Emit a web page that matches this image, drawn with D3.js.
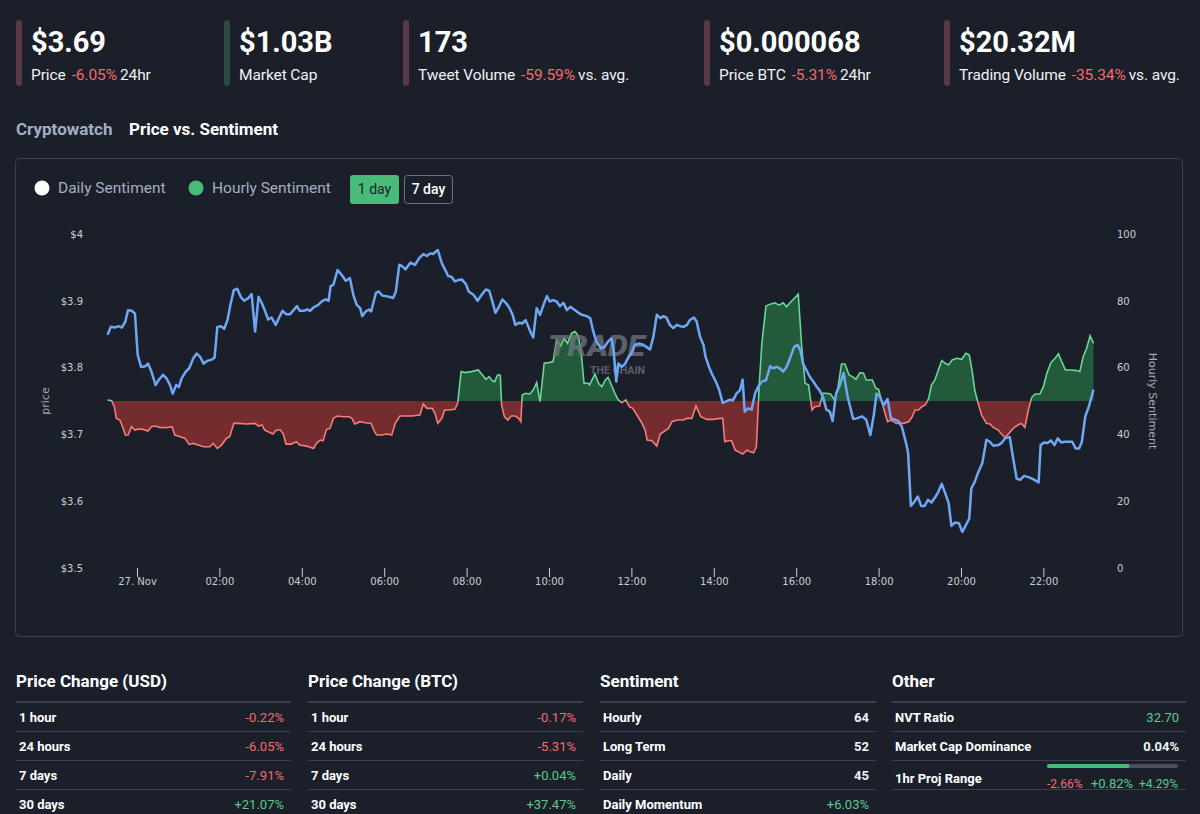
<!DOCTYPE html>
<html lang="en">
<head>
<meta charset="UTF-8">
<title>Price vs. Sentiment</title>
<script src="https://d3js.org/d3.v7.min.js"></script>
<style>
  body { margin: 0; background: #1b1f2a; }
  svg { display: block; font-family: Roboto, sans-serif; }
  .axis path { display: none; }
  .axis line { stroke: #c9ced6; }
  .axis text { font-family: "DejaVu Sans", sans-serif; font-size: 10px; fill: #c9ced6; }
</style>
</head>
<body>
<div id="page"></div>
<script>
// ---- header stats ----
const statValues = ['$3.69', '$1.03B', '173', '$0.000068', '$20.32M'];
const statLabels = ['Price', 'Market Cap', 'Tweet Volume', 'Price BTC', 'Trading Volume'];
const statChanges = ['-6.05%', '', '-59.59%', '-5.31%', '-35.34%'];
const statSuffix = ['24hr', '', 'vs. avg.', '24hr', 'vs. avg.'];

// ---- chart data (minutes after 27 Nov 00:00) ----
const priceTimes = [-43,-38,-32,-27,-22,-17,-13,-8,-3,1,6,12,16,21,27,32,38,43,48,52,57,61,65,71,76,82,87,92,97,102,109,113,117,122,127,132,136,141,146,151,156,162,167,169,172,177,182,186,191,196,202,207,212,217,223,228,233,237,243,248,252,257,264,270,275,279,282,286,292,298,304,310,315,320,325,328,333,338,341,348,352,357,362,367,373,377,382,386,391,398,405,411,417,422,427,431,438,444,449,453,458,463,468,473,479,483,490,496,502,508,513,517,522,527,532,537,542,547,551,556,561,566,570,574,577,582,587,592,597,601,606,611,616,621,626,631,638,643,648,655,660,664,669,676,681,686,691,694,698,701,706,711,716,720,725,732,737,742,747,752,757,762,766,771,776,781,786,791,796,801,805,811,815,820,825,828,833,838,843,848,853,859,864,868,873,878,882,885,890,895,900,905,910,916,922,926,932,936,941,946,951,957,962,966,970,975,980,985,990,994,999,1004,1009,1013,1018,1023,1029,1035,1043,1048,1056,1062,1068,1073,1077,1082,1087,1093,1098,1104,1109,1114,1120,1123,1127,1132,1137,1142,1147,1152,1157,1163,1167,1172,1177,1182,1186,1191,1197,1202,1207,1212,1215,1220,1225,1231,1237,1242,1247,1254,1259,1264,1271,1276,1281,1286,1292,1298,1305,1313,1316,1321,1326,1331,1336,1341,1346,1351,1359,1362,1367,1372,1376,1381,1386,1393];
const priceValues = [3.849,3.861,3.860,3.862,3.860,3.869,3.886,3.885,3.881,3.819,3.801,3.802,3.806,3.794,3.774,3.782,3.789,3.784,3.774,3.761,3.774,3.771,3.784,3.794,3.799,3.814,3.821,3.816,3.806,3.810,3.812,3.815,3.861,3.862,3.858,3.872,3.894,3.916,3.918,3.906,3.900,3.904,3.910,3.886,3.854,3.906,3.896,3.886,3.872,3.875,3.864,3.875,3.885,3.880,3.880,3.886,3.892,3.885,3.885,3.887,3.885,3.890,3.894,3.900,3.902,3.900,3.922,3.924,3.946,3.939,3.930,3.934,3.909,3.894,3.889,3.877,3.884,3.887,3.884,3.912,3.914,3.908,3.907,3.906,3.904,3.914,3.954,3.952,3.947,3.957,3.954,3.964,3.970,3.967,3.971,3.970,3.976,3.956,3.946,3.937,3.936,3.929,3.931,3.932,3.925,3.914,3.909,3.900,3.909,3.917,3.915,3.901,3.882,3.891,3.902,3.897,3.890,3.879,3.864,3.867,3.866,3.871,3.861,3.851,3.845,3.889,3.879,3.894,3.907,3.899,3.901,3.899,3.892,3.897,3.886,3.891,3.886,3.882,3.879,3.877,3.874,3.856,3.839,3.829,3.831,3.839,3.844,3.826,3.779,3.806,3.801,3.806,3.816,3.821,3.834,3.836,3.834,3.831,3.827,3.846,3.879,3.874,3.877,3.875,3.864,3.859,3.864,3.862,3.861,3.864,3.871,3.875,3.869,3.846,3.834,3.816,3.801,3.789,3.779,3.766,3.747,3.750,3.752,3.751,3.761,3.766,3.782,3.734,3.739,3.737,3.761,3.772,3.779,3.781,3.802,3.799,3.801,3.799,3.794,3.801,3.814,3.831,3.834,3.826,3.806,3.796,3.786,3.779,3.771,3.766,3.756,3.737,3.734,3.720,3.761,3.772,3.792,3.756,3.723,3.724,3.727,3.722,3.699,3.729,3.761,3.757,3.743,3.753,3.724,3.722,3.720,3.711,3.687,3.672,3.593,3.599,3.607,3.593,3.593,3.602,3.598,3.607,3.614,3.626,3.612,3.597,3.563,3.568,3.567,3.554,3.564,3.574,3.619,3.629,3.643,3.657,3.692,3.689,3.683,3.684,3.687,3.694,3.696,3.664,3.634,3.632,3.638,3.636,3.633,3.628,3.684,3.688,3.687,3.691,3.684,3.694,3.688,3.689,3.689,3.689,3.679,3.679,3.689,3.727,3.741,3.767];

const sentTimes = [-43,-37,-33,-30,-25,-21,-17,-13,-8,-3,2,9,16,21,26,33,43,51,55,63,70,76,82,89,97,106,111,117,123,130,135,141,148,160,172,177,182,186,194,198,203,209,213,217,225,232,237,247,257,262,267,271,276,281,286,292,300,309,313,317,325,332,341,346,349,356,364,371,376,383,400,412,417,422,430,434,438,444,448,453,463,467,472,478,487,497,503,508,513,517,521,525,529,531,535,540,545,551,556,559,561,566,572,577,582,587,593,600,606,611,617,622,627,633,638,643,647,651,657,659,667,672,677,682,686,691,696,701,706,712,717,722,728,735,740,743,750,757,762,767,774,779,787,796,801,808,814,821,830,839,849,853,856,861,866,871,876,882,888,893,898,902,906,910,916,922,929,935,941,946,951,957,963,968,973,978,983,987,994,999,1004,1010,1016,1021,1026,1031,1037,1042,1047,1053,1058,1062,1071,1076,1080,1084,1088,1093,1098,1106,1116,1124,1129,1133,1138,1143,1148,1153,1157,1162,1167,1172,1177,1182,1187,1194,1201,1207,1212,1216,1220,1225,1230,1237,1242,1247,1254,1259,1264,1269,1276,1283,1288,1293,1298,1303,1308,1315,1320,1325,1331,1337,1342,1346,1352,1361,1368,1373,1378,1383,1388,1393];
const sentValues = [50.3,50.1,48.3,44.8,44.3,42.3,39.8,39.8,42.3,41.3,41.6,41.5,41.0,42.3,42.5,42.1,42.0,42.3,39.8,39.3,38.8,37.0,37.3,36.8,36.3,36.3,37.3,35.8,36.8,38.8,39.3,43.3,43.3,43.1,43.3,42.5,42.8,41.3,40.5,40.1,41.3,41.3,40.1,37.1,37.1,37.8,36.8,36.5,35.8,37.5,38.3,38.1,41.5,41.8,44.8,45.5,45.3,45.3,44.8,43.1,43.8,43.5,43.3,40.8,39.8,39.8,40.1,39.8,43.3,45.5,45.5,45.8,49.1,47.8,47.8,46.3,43.3,44.8,47.3,47.3,47.5,49.3,58.8,58.5,58.8,59.3,57.8,56.5,57.3,56.1,55.8,57.8,57.8,48.8,45.3,44.3,45.5,45.5,44.8,43.8,51.8,52.3,52.1,53.3,55.5,49.8,61.3,61.5,61.8,68.3,66.5,68.8,67.3,70.3,70.8,69.3,64.3,55.3,55.3,54.8,58.1,55.3,54.3,56.3,57.1,54.8,52.3,50.3,49.5,50.3,48.3,47.8,45.8,43.5,41.3,38.3,38.1,36.5,40.1,40.8,41.8,43.8,44.3,44.3,44.8,44.8,48.5,45.3,44.5,44.5,44.8,44.8,37.8,38.1,38.1,35.3,34.8,34.1,35.3,34.8,34.5,36.3,54.3,67.3,78.4,79.0,79.4,78.7,79.4,78.2,79.4,80.7,82.0,66.3,55.3,54.8,47.3,48.3,48.5,52.3,52.3,52.1,50.3,54.3,61.1,61.1,57.8,57.3,56.5,58.5,58.3,56.3,56.3,53.8,53.5,50.3,47.3,43.8,44.3,43.3,43.3,43.8,45.3,47.3,47.3,48.3,48.8,50.8,54.8,56.3,59.3,62.1,61.3,60.8,62.3,62.8,62.5,64.3,63.8,59.3,53.3,49.3,45.8,43.3,43.1,42.1,41.3,40.1,39.1,40.1,41.8,42.8,43.3,42.1,47.3,51.1,52.1,52.1,54.3,58.3,61.5,62.8,64.1,62.1,59.3,59.3,59.1,58.8,63.3,65.8,69.5,67.3];

const priceTicks = [3.5, 3.6, 3.7, 3.8, 3.9, 4];
const sentTicks = [0, 20, 40, 60, 80, 100];
const timeTickHours = [0, 2, 4, 6, 8, 10, 12, 14, 16, 18, 20, 22];
const sentimentNeutral = 50;

// ---- bottom tables ----
const tableTitles = ['Price Change (USD)', 'Price Change (BTC)', 'Sentiment', 'Other'];
const usdRows = [['1 hour', '-0.22%'], ['24 hours', '-6.05%'], ['7 days', '-7.91%'], ['30 days', '+21.07%']];
const btcRows = [['1 hour', '-0.17%'], ['24 hours', '-5.31%'], ['7 days', '+0.04%'], ['30 days', '+37.47%']];
const sentimentRows = [['Hourly', '64'], ['Long Term', '52'], ['Daily', '45'], ['Daily Momentum', '+6.03%']];
const otherRows = [['NVT Ratio', '32.70', 'up'], ['Market Cap Dominance', '0.04%']];
const projRange = ['-2.66%', '+0.82%', '+4.29%'];
const projFill = 0.63;

const RED = '#f56c6c', GREEN = '#5cc98a', WHITE = '#f0f2f5';

const svg = d3.select('#page').append('svg')
    .attr('width', 1200).attr('height', 814);

// header stats
const statX = [16, 224, 403, 704, 944];
statValues.forEach((v, i) => {
    const g = svg.append('g').attr('transform', `translate(${statX[i]},0)`);
    const neg = statChanges[i].startsWith('-');
    g.append('rect').attr('x', 0).attr('y', 20).attr('width', 6).attr('height', 66).attr('rx', 3)
        .attr('fill', neg ? '#563b47' : '#2c4842');
    g.append('text').attr('x', 15).attr('y', 52).attr('fill', '#ffffff')
        .style('font-size', '29px').style('font-weight', 700).text(v);
    const t = g.append('text').attr('x', 15).attr('y', 80).attr('fill', WHITE)
        .style('font-size', '15.5px').style('letter-spacing', '-0.1px');
    t.append('tspan').text(statLabels[i]);
    if (statChanges[i]) {
        t.append('tspan').attr('dx', 6).attr('fill', RED).text(statChanges[i]);
        t.append('tspan').attr('dx', 3).text(statSuffix[i]);
    }
});

svg.append('text').attr('x', 16).attr('y', 135).attr('fill', '#a3aec2')
    .style('font-size', '17px').style('font-weight', 700).text('Cryptowatch');
svg.append('text').attr('x', 129).attr('y', 135).attr('fill', '#ffffff')
    .style('font-size', '17px').style('font-weight', 700).text('Price vs. Sentiment');

// chart panel
svg.append('rect').attr('x', 15.5).attr('y', 158.5).attr('width', 1167).attr('height', 478).attr('rx', 4)
    .attr('fill', 'none').attr('stroke', '#3a4050');

// legend + buttons
svg.append('circle').attr('cx', 42).attr('cy', 188).attr('r', 7.5).attr('fill', '#ffffff');
svg.append('text').attr('x', 58).attr('y', 193).attr('fill', '#a3aec2').style('font-size', '15.5px').text('Daily Sentiment');
svg.append('circle').attr('cx', 196).attr('cy', 188).attr('r', 7.5).attr('fill', '#48bb78');
svg.append('text').attr('x', 212).attr('y', 193).attr('fill', '#a3aec2').style('font-size', '15.5px').text('Hourly Sentiment');
svg.append('rect').attr('x', 350).attr('y', 175).attr('width', 49).attr('height', 29).attr('rx', 3).attr('fill', '#48bb78');
svg.append('text').attr('x', 374.5).attr('y', 194).attr('text-anchor', 'middle').attr('fill', '#1a202c')
    .style('font-size', '14px').text('1 day');
svg.append('rect').attr('x', 404.5).attr('y', 175.5).attr('width', 48).attr('height', 28).attr('rx', 3)
    .attr('fill', 'none').attr('stroke', '#6b7385');
svg.append('text').attr('x', 428.5).attr('y', 194).attr('text-anchor', 'middle').attr('fill', '#ffffff')
    .style('font-size', '14px').style('font-weight', 500).text('7 day');

// scales
const t = m => new Date(Date.UTC(2021, 10, 27, 0, m));
const x = d3.scaleUtc().domain([t(-60), t(1440)]).range([95.8, 1125.8]);
const yP = d3.scaleLinear().domain([3.5, 4]).range([568, 234]);
const yS = d3.scaleLinear().domain([0, 100]).range([568, 234]);

const price = priceTimes.map((m, i) => ({ t: t(m), v: priceValues[i] }));
const sent = sentTimes.map((m, i) => ({ t: t(m), v: sentValues[i] }));

// axes
svg.append('g').attr('class', 'axis').attr('transform', 'translate(83,0)')
    .call(d3.axisLeft(yP).tickValues(priceTicks).tickSize(0).tickPadding(0)
        .tickFormat(d => '$' + d3.format('~g')(d)));
svg.append('g').attr('class', 'axis').attr('transform', 'translate(1117,0)')
    .call(d3.axisRight(yS).tickValues(sentTicks).tickSize(0).tickPadding(0));
svg.append('g').attr('class', 'axis').attr('transform', 'translate(0,568)')
    .call(d3.axisBottom(x).tickValues(timeTickHours.map(h => t(h * 60))).tickSize(9).tickPadding(1)
        .tickFormat(d => d.getUTCHours() === 0 ? '27. Nov' : d3.utcFormat('%H:%M')(d)));

svg.append('text').attr('transform', 'translate(49,401) rotate(-90)').attr('text-anchor', 'middle')
    .attr('fill', '#a3aab8').style('font-family', '"DejaVu Sans", sans-serif').style('font-size', '11px').text('price');
svg.append('text').attr('transform', 'translate(1149,401) rotate(90)').attr('text-anchor', 'middle')
    .attr('fill', '#a3aab8').style('font-family', '"DejaVu Sans", sans-serif').style('font-size', '11px').text('Hourly Sentiment');

// sentiment area, split at neutral
const y50 = yS(sentimentNeutral);
const defs = svg.append('defs');
defs.append('clipPath').attr('id', 'clip-up').append('rect').attr('x', 0).attr('y', 0).attr('width', 1200).attr('height', y50);
defs.append('clipPath').attr('id', 'clip-down').append('rect').attr('x', 0).attr('y', y50).attr('width', 1200).attr('height', 814 - y50);

const area = d3.area().x(d => x(d.t)).y0(y50).y1(d => yS(d.v));
const sLine = d3.line().x(d => x(d.t)).y(d => yS(d.v));

[['clip-up', '#225a3b', '#6bd795'], ['clip-down', '#752c2e', '#f77b7b']].forEach(([clip, fill, stroke]) => {
    const g = svg.append('g').attr('clip-path', `url(#${clip})`);
    g.append('path').datum(sent).attr('d', area).attr('fill', fill);
    g.append('path').datum(sent).attr('d', sLine).attr('fill', 'none').attr('stroke', stroke).attr('stroke-width', 1.6);
});

// watermark
svg.append('text').attr('x', 548).attr('y', 356).attr('textLength', 97).attr('lengthAdjust', 'spacingAndGlyphs')
    .attr('fill', '#70757f').attr('opacity', 0.75)
    .style('font-size', '29px').style('font-weight', 900).style('font-style', 'italic').text('TRADE');
svg.append('text').attr('x', 590).attr('y', 374).attr('textLength', 55).attr('lengthAdjust', 'spacingAndGlyphs')
    .attr('fill', '#70757f').attr('opacity', 0.75)
    .style('font-size', '10px').style('font-weight', 700).text('THE CHAIN');

// price line
svg.append('path').datum(price)
    .attr('d', d3.line().x(d => x(d.t)).y(d => yP(d.v)))
    .attr('fill', 'none').attr('stroke', '#6ea8f5').attr('stroke-width', 2.5).attr('stroke-linejoin', 'round');

// tables
const tableX = [16, 308, 600, 892];
const tableW = [275, 275, 276, 294];
const tables = [usdRows, btcRows, sentimentRows, otherRows];
const valueColor = (v, tone) => tone === 'up' ? GREEN : v.startsWith('-') ? RED : v.startsWith('+') ? GREEN : WHITE;

tables.forEach((rows, i) => {
    const g = svg.append('g').attr('transform', `translate(${tableX[i]},0)`);
    const w = tableW[i];
    g.append('text').attr('x', 0).attr('y', 687).attr('fill', '#ffffff')
        .style('font-size', '17px').style('font-weight', 700).text(tableTitles[i]);
    g.append('line').attr('x1', 0).attr('x2', w).attr('y1', 702).attr('y2', 702)
        .attr('stroke', '#3a404e').attr('stroke-width', 2);
    [731.5, 760.5, 789.5].forEach(y => g.append('line').attr('x1', 0).attr('x2', w)
        .attr('y1', y).attr('y2', y).attr('stroke', '#3a404e'));
    rows.forEach((r, j) => {
        const cy = 717 + j * 29;
        g.append('text').attr('x', 3).attr('y', cy + 5).attr('fill', '#ffffff')
            .style('font-size', '13px').style('font-weight', 700).text(r[0]);
        g.append('text').attr('x', w - 7).attr('y', cy + 5).attr('text-anchor', 'end')
            .attr('fill', valueColor(r[1], r[2]))
            .style('font-size', '13px').style('font-weight', r[1].startsWith('+') || r[1].startsWith('-') || r[2] ? 400 : 700)
            .text(r[1]);
    });
});

// 1hr projected range row
const og = svg.append('g').attr('transform', `translate(${tableX[3]},0)`);
og.append('text').attr('x', 3).attr('y', 783).attr('fill', '#ffffff')
    .style('font-size', '13px').style('font-weight', 700).text('1hr Proj Range');
const barScale = d3.scaleLinear().domain([0, 1]).range([155, 286]);
og.append('rect').attr('x', barScale(0)).attr('y', 764).attr('width', barScale(1) - barScale(0)).attr('height', 4)
    .attr('rx', 2).attr('fill', '#4a5060');
og.append('rect').attr('x', barScale(0)).attr('y', 764).attr('width', barScale(projFill) - barScale(0)).attr('height', 4)
    .attr('rx', 2).attr('fill', '#48bb78');
og.append('text').attr('x', barScale(0)).attr('y', 788).attr('fill', RED).style('font-size', '12px').text(projRange[0]);
og.append('text').attr('x', 220).attr('y', 788).attr('text-anchor', 'middle').attr('fill', GREEN)
    .style('font-size', '13px').text(projRange[1]);
og.append('text').attr('x', barScale(1)).attr('y', 788).attr('text-anchor', 'end').attr('fill', GREEN)
    .style('font-size', '12px').text(projRange[2]);
</script>
</body>
</html>
